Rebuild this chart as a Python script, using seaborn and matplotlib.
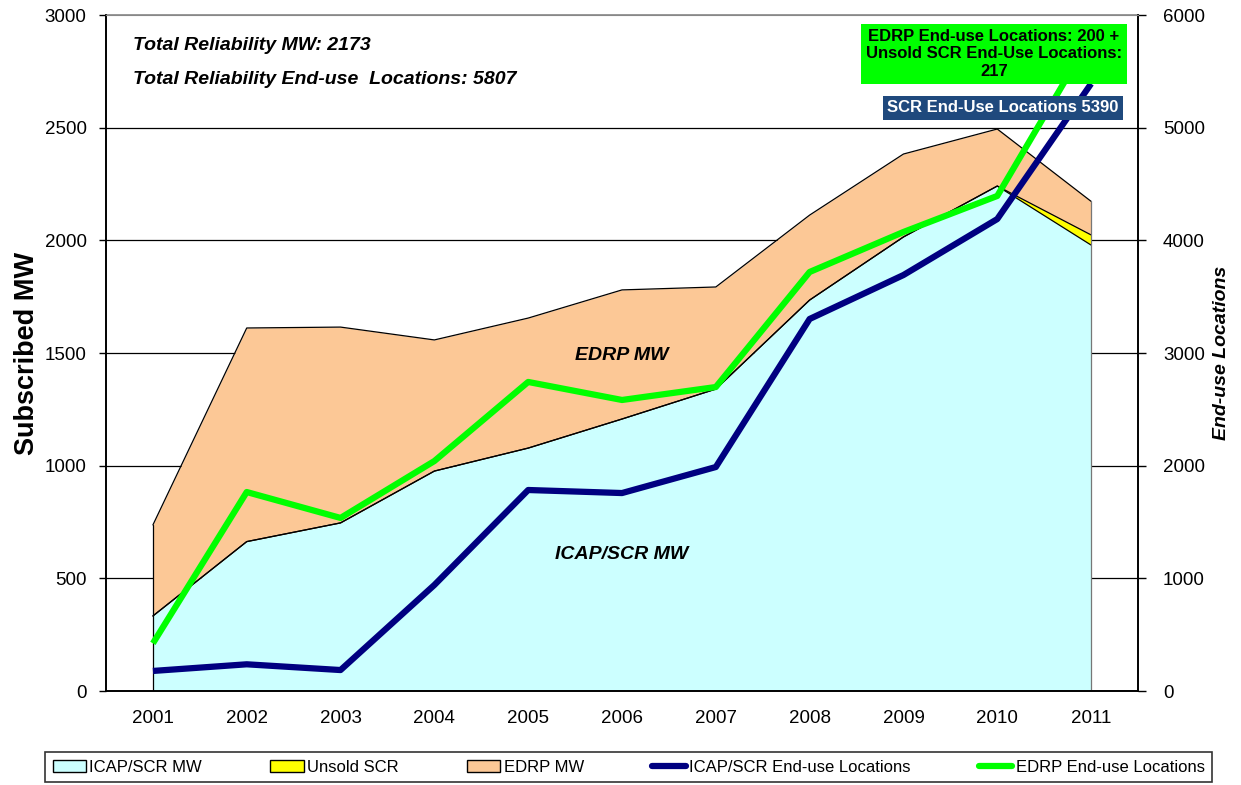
import numpy as np
import pandas as pd
import seaborn as sns
import matplotlib.pyplot as plt
from matplotlib.patches import Patch
from matplotlib.lines import Line2D

# --- data ---
years = ["2001", "2002", "2003", "2004", "2005", "2006", "2007", "2008", "2009", "2010", "2011"]
icap_scr_mw = [333, 663, 746, 976, 1078, 1207, 1340, 1735, 2015, 2241, 1979]
unsold_scr_mw = [0, 0, 0, 0, 0, 0, 0, 0, 0, 0, 45]
edrp_mw = [404, 948, 869, 582, 577, 573, 453, 377, 368, 253, 149]
icap_locations = [178, 237, 186, 941, 1784, 1757, 1988, 3302, 3692, 4189, 5390]
edrp_locations = [423, 1766, 1536, 2041, 2743, 2583, 2698, 3719, 4074, 4394, 5807]

sns.set_style("white")
plt.rcParams['font.family'] = ['Liberation Sans', 'DejaVu Sans']
plt.rcParams['text.color'] = 'black'
plt.rcParams['axes.labelcolor'] = 'black'
plt.rcParams['xtick.color'] = 'black'
plt.rcParams['ytick.color'] = 'black'

c_icap = "#CCFFFF"
c_unsold = "#FFFF00"
c_edrp = "#FCC896"
c_navy = "#000080"
c_green = "#00FF00"

x = np.arange(len(years))
icap = np.array(icap_scr_mw)
unsold_top = icap + np.array(unsold_scr_mw)
total = unsold_top + np.array(edrp_mw)

fig = plt.figure(figsize=(12.41, 7.85), dpi=100)
ax = fig.add_axes([106 / 1241, 94 / 785, 1032 / 1241, 676 / 785])

# gridlines behind the areas
for v in [500, 1000, 1500, 2000, 2500]:
    ax.axhline(v, color="black", lw=0.9, zorder=0)

ax.fill_between(x, 0, icap, color=c_icap, zorder=1, lw=0)
ax.fill_between(x, icap, unsold_top, color=c_unsold, zorder=1, lw=0)
ax.fill_between(x, unsold_top, total, color=c_edrp, zorder=1, lw=0)
ax.plot(x, icap, color="black", lw=0.9, zorder=2)
ax.plot(x, unsold_top, color="black", lw=0.9, zorder=2)
ax.plot(x, total, color="black", lw=0.9, zorder=2)
ax.plot([0, 0], [0, total[0]], color="black", lw=0.9, zorder=2)
ax.plot([10, 10], [0, total[-1]], color="#777777", lw=0.9, zorder=2)
ax.plot([10, 10.5], [0, 0], color="#999999", lw=1.2, zorder=2)

ax.set_xlim(-0.5, 10.5)
ax.set_ylim(0, 3000)
ax.set_yticks(range(0, 3001, 500))
ax.set_xticks(x)
ax.set_xticklabels(years)
ax.set_xticks(np.arange(-0.5, 11, 1), minor=True)
ax.tick_params(axis="x", which="major", length=0, labelsize=13.5, pad=14)
ax.tick_params(axis="x", which="minor", length=5, width=1, direction="out", color="black")
ax.tick_params(axis="y", length=5, width=1, direction="out", labelsize=13.5, color="black", pad=9)
ax.set_ylabel("Subscribed MW", fontsize=19.5, fontweight="bold", labelpad=3)

for side in ["left", "bottom", "right"]:
    ax.spines[side].set_color("black")
    ax.spines[side].set_linewidth(1.2)
ax.spines["top"].set_color("#888888")
ax.spines["top"].set_linewidth(1.2)

ax.text(5.0, 1491, "EDRP MW", fontsize=14, fontweight="bold", style="italic", ha="center", va="center")
ax.text(5.0, 604, "ICAP/SCR MW", fontsize=14, fontweight="bold", style="italic", ha="center", va="center")

# right axis: end-use locations
ax2 = ax.twinx()
loc_df = pd.DataFrame({"x": np.concatenate([x, x]),
                       "loc": icap_locations + edrp_locations,
                       "series": ["ICAP/SCR End-use Locations"] * 11 + ["EDRP End-use Locations"] * 11})
sns.lineplot(data=loc_df, x="x", y="loc", hue="series", palette=[c_navy, c_green],
             lw=4.5, ax=ax2, legend=False, solid_capstyle="butt")
ax2.set_ylim(0, 6000)
ax2.set_yticks(range(0, 6001, 1000))
ax2.tick_params(axis="y", length=6, width=1, direction="out", labelsize=13.5, color="black", pad=12)
ax2.set_ylabel("End-use Locations", fontsize=14, fontweight="bold", style="italic", labelpad=6)
ax2.set_xlabel("")
for side in ["left", "bottom", "right"]:
    ax2.spines[side].set_color("black")
    ax2.spines[side].set_linewidth(1.2)
ax2.spines["top"].set_color("#888888")

# top-left notes
fig.text(133 / 1241, 1 - 45 / 785, "Total Reliability MW: 2173", fontsize=14,
         fontweight="bold", style="italic", va="center")
fig.text(133 / 1241, 1 - 79 / 785, "Total Reliability End-use  Locations: 5807", fontsize=14,
         fontweight="bold", style="italic", va="center")

# callout boxes
fig.text(994 / 1241, 1 - 54 / 785,
         "EDRP End-use Locations: 200 +\nUnsold SCR End-Use Locations:\n217",
         fontsize=12, fontweight="bold", ha="center", va="center", linespacing=1.2, zorder=10,
         bbox=dict(boxstyle="square,pad=0.3", fc=c_green, ec="none"))
fig.text(1003 / 1241, 1 - 108 / 785, "SCR End-Use Locations 5390",
         fontsize=12, fontweight="bold", color="white", ha="center", va="center", zorder=10,
         bbox=dict(boxstyle="square,pad=0.25", fc="#1F497D", ec="none"))

# legend
handles = [Patch(fc=c_icap, ec="black", label="ICAP/SCR MW"),
           Patch(fc=c_unsold, ec="black", label="Unsold SCR"),
           Patch(fc=c_edrp, ec="black", label="EDRP MW"),
           Line2D([], [], color=c_navy, lw=4.5, label="ICAP/SCR End-use Locations"),
           Line2D([], [], color=c_green, lw=4.5, label="EDRP End-use Locations")]
leg = fig.legend(handles=handles, loc="lower left", ncol=5, mode="expand",
                 bbox_to_anchor=(45 / 1241, 3 / 785, 1167 / 1241, 31 / 785),
                 fontsize=12, frameon=True, fancybox=False, handlelength=2.0,
                 handletextpad=0.2, borderaxespad=0, borderpad=0.45)
leg.get_frame().set_edgecolor("black")
leg.get_frame().set_linewidth(1.2)

fig.savefig("out.png", dpi=100)
